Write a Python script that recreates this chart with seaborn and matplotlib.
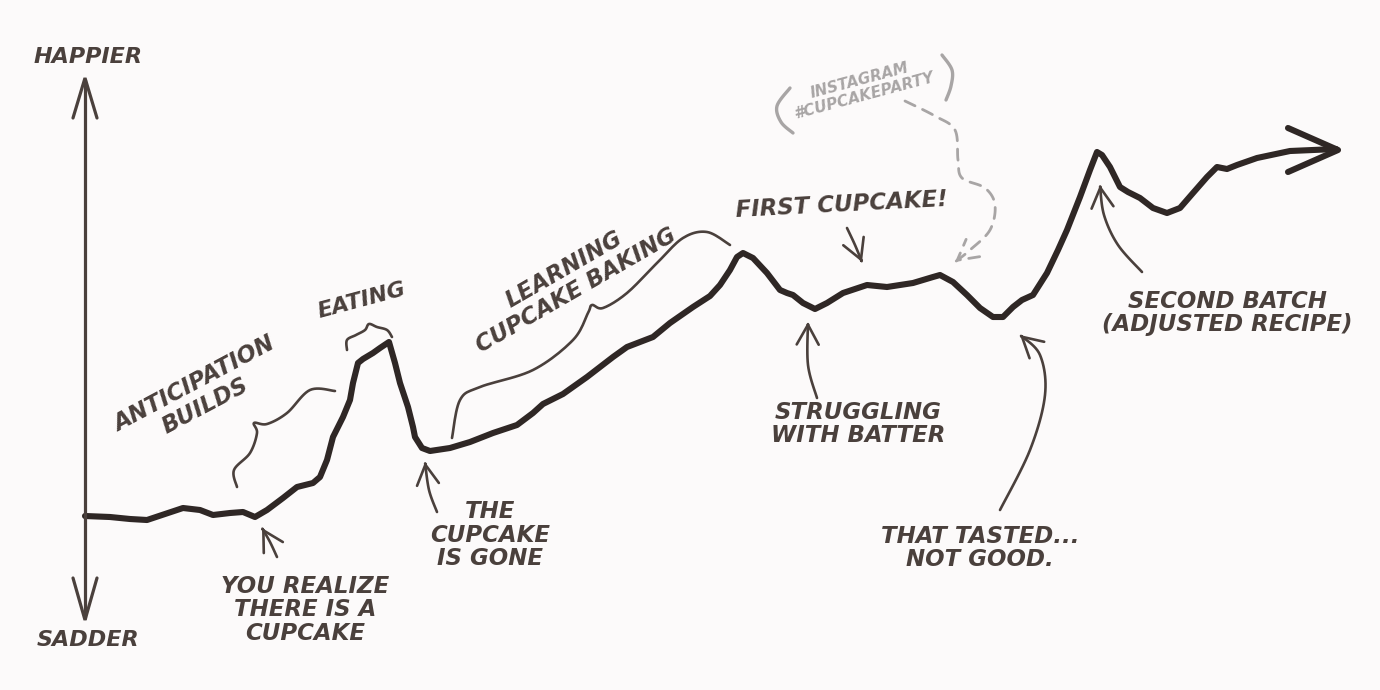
import numpy as np
import pandas as pd
import matplotlib
matplotlib.use("Agg")
import matplotlib.pyplot as plt
import seaborn as sns
from matplotlib.patches import FancyArrowPatch
from matplotlib.path import Path

# ---- data (time, happiness) ----
time = [85, 110, 130, 147, 165, 183, 200, 213, 230, 243, 255, 267, 283, 297, 313, 320,
        327, 333, 343, 350, 353, 358, 363, 373, 380, 389, 395, 400, 408, 413, 415,
        422, 430, 450, 470, 493, 517, 533, 543, 563, 587, 613, 627, 653, 670, 693,
        710, 720, 730, 737, 743, 753, 767, 780, 787, 793, 803, 815, 827, 843, 867,
        887, 913, 933, 940, 953, 967, 980, 993, 1003, 1013, 1022, 1033, 1047, 1058,
        1067, 1080, 1090, 1097, 1102, 1110, 1120, 1128, 1140, 1153, 1167, 1180, 1193,
        1207, 1217, 1227, 1237, 1257, 1290, 1336]
ypix = [516, 517, 519, 520, 514, 508, 510, 515, 513, 512, 517, 510, 498, 487, 483, 477,
        460, 437, 417, 400, 383, 363, 359, 353, 348, 342, 363, 383, 407, 427, 437,
        448, 451, 448, 442, 433, 425, 413, 404, 394, 377, 357, 347, 337, 323, 307,
        296, 285, 270, 257, 253, 258, 273, 290, 293, 295, 303, 309, 303, 293, 285,
        287, 283, 277, 275, 282, 295, 308, 317, 317, 307, 300, 295, 273, 250,
        230, 197, 170, 152, 155, 167, 187, 192, 198, 208, 213, 208, 193,
        177, 167, 169, 165, 158, 151, 149]
H = 690
happiness = [H - v for v in ypix]

axis_labels = ["HAPPIER", "SADDER"]
events = ["ANTICIPATION\nBUILDS", "EATING", "LEARNING\nCUPCAKE BAKING", "FIRST CUPCAKE!",
          "INSTAGRAM\n#CUPCAKEPARTY", "STRUGGLING\nWITH BATTER", "THE\nCUPCAKE\nIS GONE",
          "YOU REALIZE\nTHERE IS A\nCUPCAKE", "THAT TASTED...\nNOT GOOD.",
          "SECOND BATCH\n(ADJUSTED RECIPE)"]

BG = "#fcfafa"
LINE = "#2f2725"
INK = "#4a403c"
GRAY = "#a8a5a5"

sns.set_theme(style="white")
plt.rcParams['font.family'] = ['DejaVu Sans']

fig = plt.figure(figsize=(13.8, 6.9), dpi=100, facecolor=BG)
ax = fig.add_axes([0, 0, 1, 1])
ax.set_facecolor(BG)
ax.set_xlim(0, 1380)
ax.set_ylim(0, 690)
ax.axis("off")

df = pd.DataFrame({"time": time, "happiness": happiness})
sns.lineplot(data=df, x="time", y="happiness", ax=ax, color=LINE, lw=4.4,
             solid_capstyle="round", solid_joinstyle="round", sort=False)


def P(x, y):
    return (x, H - y)


def smooth(points, n=12):
    """Catmull-Rom smoothing for decorative hand-drawn strokes."""
    pts = np.array([P(*p) for p in points], dtype=float)
    ext = np.vstack([pts[0], pts, pts[-1]])
    out = []
    for i in range(1, len(ext) - 2):
        p0, p1, p2, p3 = ext[i - 1], ext[i], ext[i + 1], ext[i + 2]
        for t in np.linspace(0, 1, n, endpoint=False):
            t2, t3 = t * t, t * t * t
            out.append(0.5 * ((2 * p1) + (-p0 + p2) * t +
                              (2 * p0 - 5 * p1 + 4 * p2 - p3) * t2 +
                              (-p0 + 3 * p1 - 3 * p2 + p3) * t3))
    out.append(pts[-1])
    return np.array(out)


def stroke(points, color=INK, lw=1.9, arrow=True, ls="-"):
    verts = smooth(points)
    codes = [Path.MOVETO] + [Path.LINETO] * (len(verts) - 1)
    style = "->,head_length=6.5,head_width=3.6" if arrow else "-"
    patch = FancyArrowPatch(path=Path(verts, codes), arrowstyle=style, color=color,
                            lw=lw, linestyle=ls, mutation_scale=2.2, capstyle="round",
                            joinstyle="round")
    ax.add_patch(patch)


# end arrowhead of main line
ax.plot(*zip(P(1288, 128), P(1338, 150), P(1288, 172)), color=LINE, lw=4.4,
        solid_capstyle="round", solid_joinstyle="round")

# vertical axis with arrows
ax.plot(*zip(P(85, 80), P(85, 618)), color=INK, lw=2.3)
ax.plot(*zip(P(73, 118), P(85, 78), P(97, 118)), color=INK, lw=2.3,
        solid_joinstyle="miter")
ax.plot(*zip(P(73, 578), P(85, 620), P(97, 578)), color=INK, lw=2.3,
        solid_joinstyle="miter")

tkw = dict(color=INK, fontweight="bold", fontstyle="italic", ha="center", va="center",
           linespacing=1.05)
ax.text(*P(88, 57), axis_labels[0], fontsize=16, **tkw)
ax.text(*P(88, 640), axis_labels[1], fontsize=16, **tkw)

ax.text(*P(200, 395), events[0], fontsize=16.5, rotation=28, **tkw)
ax.text(*P(362, 300), events[1], fontsize=16, rotation=15, **tkw)
ax.text(*P(570, 280), events[2], fontsize=16.5, rotation=30, **tkw)
ax.text(*P(842, 205), events[3], fontsize=16.5, rotation=3, **tkw)
ax.text(*P(862, 88), events[4], fontsize=11, rotation=15,
        **{**tkw, "color": GRAY, "fontweight": "bold"})
ax.text(*P(858, 424), events[5], fontsize=16.5, **tkw)
ax.text(*P(490, 535), events[6], fontsize=16.5, **tkw)
ax.text(*P(305, 610), events[7], fontsize=16.5, **tkw)
ax.text(*P(980, 548), events[8], fontsize=16.5, **tkw)
ax.text(*P(1227, 313), events[9], fontsize=16.5, **tkw)

# pointer arrows
stroke([(277, 557), (270, 542), (262, 528)])
stroke([(437, 512), (429, 490), (425, 462)])
stroke([(817, 398), (808, 365), (808, 322)])
stroke([(847, 228), (855, 245), (862, 262)])
stroke([(1000, 510), (1030, 450), (1045, 395), (1040, 355), (1020, 335)])
stroke([(1142, 272), (1118, 245), (1104, 215), (1100, 185)])

# braces
stroke([(237, 487), (234, 470), (250, 453), (257, 433), (254, 423), (267, 424),
        (287, 413), (310, 390), (335, 391)], arrow=False)
stroke([(347, 350), (347, 340), (356, 335), (365, 330), (369, 324), (377, 327),
        (387, 330), (392, 337)], arrow=False)
stroke([(452, 438), (460, 400), (480, 387), (533, 370), (573, 340), (588, 313),
        (592, 305), (603, 308), (627, 293), (657, 263), (683, 238), (707, 232),
        (730, 245)], arrow=False)

# instagram parentheses and dashed arrow
stroke([(790, 88), (777, 106), (781, 122), (793, 133)], color=GRAY, lw=2.4, arrow=False)
stroke([(942, 55), (952, 70), (951, 86), (946, 100)], color=GRAY, lw=2.4, arrow=False)
stroke([(905, 101), (935, 116), (955, 130), (958, 160), (962, 178), (985, 188),
        (995, 205), (990, 230), (970, 250), (955, 262)], color=GRAY, lw=2.0,
       ls=(0, (4, 3)))

fig.savefig("out.png", dpi=100, facecolor=BG)
